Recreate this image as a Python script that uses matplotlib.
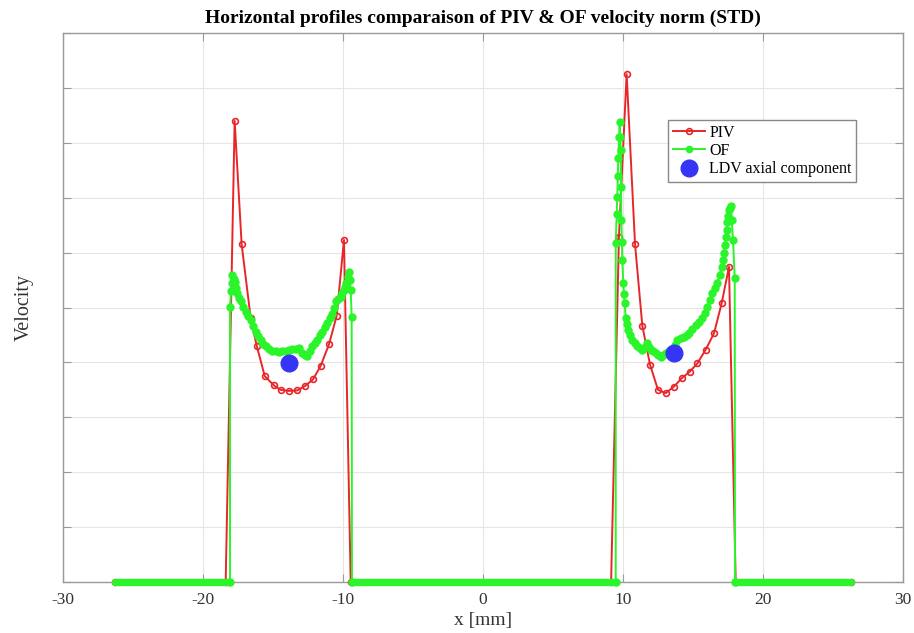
import matplotlib
matplotlib.use("Agg")
import matplotlib.pyplot as plt
from matplotlib.lines import Line2D

plt.rcParams['font.family'] = ['Liberation Serif', 'DejaVu Serif']
plt.rcParams['axes.unicode_minus'] = False

# ---------------- data ----------------
# PIV profile (x in mm, velocity in arbitrary units)
piv_x = [-26.3, -18.38, -17.74, -17.24, -16.59, -16.16, -15.59, -14.93, -14.45,
         -13.86, -13.26, -12.71, -12.14, -11.59, -11.00, -10.45, -9.93, -9.45,
         9.15, 9.71, 10.26, 10.86, 11.38, 11.93, 12.50, 13.05, 13.64, 14.19,
         14.76, 15.31, 15.90, 16.50, 17.05, 17.57, 18.05, 26.3]
piv_v = [0.0, 0.0, 8.40, 6.15, 4.80, 4.30, 3.75, 3.58, 3.50,
         3.48, 3.49, 3.57, 3.69, 3.94, 4.33, 4.85, 6.23, 0.0,
         0.0, 6.29, 9.25, 6.15, 4.67, 3.96, 3.50, 3.44, 3.56, 3.71,
         3.83, 3.98, 4.23, 4.53, 5.08, 5.74, 0.0, 0.0]

# OF profile, left hump
of_left_x = [-18.07, -18.07, -18.00, -17.95, -17.90, -17.82, -17.74, -17.65, -17.55,
             -17.43, -17.31, -17.13, -16.95, -16.77, -16.59, -16.42, -16.24, -16.06,
             -15.88, -15.70, -15.52, -15.30, -15.05, -14.80, -14.57, -14.33, -14.09,
             -13.85, -13.62, -13.38, -13.14, -12.91, -12.73, -12.55, -12.37, -12.19,
             -12.01, -11.84, -11.66, -11.48, -11.30, -11.12, -10.94, -10.76, -10.64,
             -10.52, -10.34, -10.16, -10.04, -9.93, -9.85, -9.76, -9.66, -9.57,
             -9.50, -9.45, -9.38, -9.36]
of_left_v = [0.0, 5.01, 5.30, 5.45, 5.59, 5.52, 5.47, 5.36, 5.26,
             5.18, 5.11, 5.01, 4.92, 4.84, 4.77, 4.66, 4.56, 4.48,
             4.41, 4.34, 4.29, 4.25, 4.21, 4.20, 4.19, 4.20, 4.21,
             4.22, 4.24, 4.25, 4.26, 4.17, 4.14, 4.12, 4.20, 4.29,
             4.35, 4.41, 4.49, 4.56, 4.64, 4.71, 4.80, 4.89, 5.00,
             5.11, 5.15, 5.20, 5.26, 5.32, 5.38, 5.44, 5.55, 5.65,
             5.50, 5.32, 4.83, 0.0]

# OF profile, right hump
of_right_x = [9.48, 9.48, 9.55, 9.59, 9.63, 9.66, 9.72, 9.76, 9.80, 9.84, 9.86,
              9.88, 9.92, 9.95, 10.02, 10.07, 10.12, 10.19, 10.28, 10.38, 10.52,
              10.66, 10.84, 11.02, 11.20, 11.38, 11.56, 11.74, 11.86, 11.98, 12.16,
              12.34, 12.52, 12.69, 12.87, 13.05, 13.28, 13.52, 13.70, 13.88, 14.12,
              14.36, 14.54, 14.71, 14.95, 15.19, 15.42, 15.66, 15.84, 16.02, 16.20,
              16.38, 16.56, 16.74, 16.90, 17.05, 17.13, 17.21, 17.28, 17.34, 17.40,
              17.45, 17.51, 17.57, 17.63, 17.69, 17.76, 17.86, 17.98, 18.00]
of_right_v = [0.0, 6.17, 6.70, 7.02, 7.40, 7.72, 8.10, 8.38, 8.10, 7.87, 7.20,
              6.59, 6.20, 5.87, 5.44, 5.25, 5.08, 4.80, 4.70, 4.59, 4.50,
              4.41, 4.35, 4.29, 4.26, 4.23, 4.28, 4.35, 4.28, 4.23, 4.20,
              4.17, 4.13, 4.10, 4.13, 4.17, 4.20, 4.23, 4.32, 4.41, 4.44,
              4.47, 4.50, 4.53, 4.60, 4.68, 4.74, 4.80, 4.90, 5.01, 5.13,
              5.26, 5.35, 5.44, 5.60, 5.74, 5.86, 5.99, 6.14, 6.29, 6.42,
              6.56, 6.67, 6.78, 6.81, 6.84, 6.59, 6.23, 5.53, 0.0]

# OF zero-velocity runs (dense markers along the zero-velocity zones)
of_zero_start = [-26.3, -9.36, 18.00]
of_zero_end = [-18.07, 9.48, 26.3]

# LDV axial component
ldv_x = [-13.86, 13.64]
ldv_v = [3.99, 4.18]

x_ticks = [-30, -20, -10, 0, 10, 20, 30]
y_ticks = [0, 1, 2, 3, 4, 5, 6, 7, 8, 9, 10]

# ---------------- style ----------------
RED = '#e8262a'
GREEN = '#2af52a'
BLUE = '#3535f5'
SPINE = '#9a9a9a'
TXT = '#333333'

fig = plt.figure(figsize=(9.14, 6.33), dpi=100)
ax = fig.add_axes([63/914, 51/633, 840/914, 549/633])

ax.plot(piv_x, piv_v, color=RED, lw=1.4, marker='o', ms=4.2,
        mfc='none', mec=RED, mew=1.2, zorder=3, clip_on=False)

for xs, xe in zip(of_zero_start, of_zero_end):
    ax.plot([xs, xe], [0, 0], color=GREEN, lw=5.3, solid_capstyle='round',
            zorder=4, clip_on=False)
ax.plot(of_left_x, of_left_v, color=GREEN, lw=1.4, marker='o', ms=5,
        mfc=GREEN, mec=GREEN, zorder=4, clip_on=False)
ax.plot(of_right_x, of_right_v, color=GREEN, lw=1.4, marker='o', ms=5,
        mfc=GREEN, mec=GREEN, zorder=4, clip_on=False)

ax.plot(ldv_x, ldv_v, linestyle='none', marker='o', ms=12, color=BLUE,
        mec=BLUE, zorder=5)

ax.set_xlim(-30, 30)
ax.set_ylim(0, 10)
ax.set_xticks(x_ticks)
ax.set_xticklabels([str(t) for t in x_ticks])
ax.set_yticks(y_ticks)
ax.set_yticklabels([])
ax.grid(True, color='#e6e6e6', lw=0.8)
ax.set_axisbelow(True)
ax.tick_params(direction='in', top=True, right=True, length=6, width=0.8,
               color=SPINE, labelsize=12.5, labelcolor=TXT, pad=7)
for s in ax.spines.values():
    s.set_color(SPINE)
    s.set_linewidth(1.0)

ax.set_xlabel('x [mm]', fontsize=14, color=TXT, labelpad=3)
ax.set_ylabel('Velocity', fontsize=14.5, color=TXT, labelpad=14)
ax.set_title('Horizontal profiles comparaison of PIV & OF velocity norm (STD)',
             fontsize=14, fontweight='bold', pad=7)

handles = [
    Line2D([], [], color=RED, lw=1.4, marker='o', ms=4.2, mfc='none', mec=RED, mew=1.2),
    Line2D([], [], color=GREEN, lw=1.4, marker='o', ms=4.5, mfc=GREEN, mec=GREEN),
    Line2D([], [], linestyle='none', marker='o', ms=12, color=BLUE),
]
leg = ax.legend(handles, ['PIV', 'OF', 'LDV axial component'],
                loc='upper left', bbox_to_anchor=(0.72, 0.842),
                fontsize=11.5, frameon=True, fancybox=False, framealpha=1,
                edgecolor='#888888', handlelength=2.0, handletextpad=0.3,
                borderpad=0.3, labelspacing=0.15, borderaxespad=0,
                markerscale=1.0)
leg.get_frame().set_linewidth(1.0)

fig.savefig('out.png', dpi=100)
